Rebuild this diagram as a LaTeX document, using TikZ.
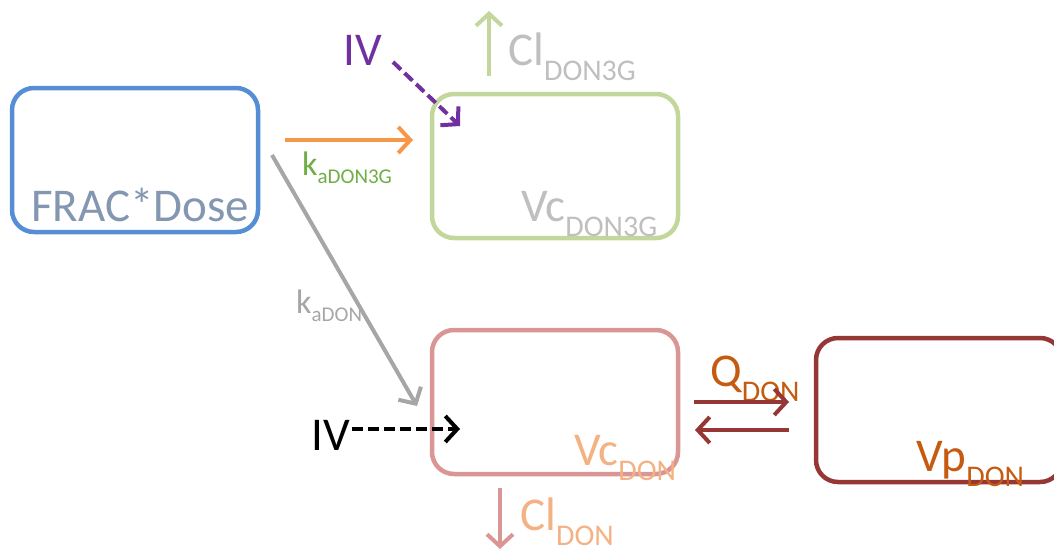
\documentclass[tikz,border=0pt]{standalone}
\usepackage{fontspec}
\setmainfont{Carlito}
\usetikzlibrary{arrows.meta}
\definecolor{cBlue}{HTML}{558ED5}
\definecolor{cFrac}{HTML}{8497B0}
\definecolor{cGreenBox}{HTML}{C3D69B}
\definecolor{cGrey}{HTML}{BFBFBF}
\definecolor{cGreyArr}{HTML}{A6A6A6}
\definecolor{cPurple}{HTML}{7030A0}
\definecolor{cGreenTxt}{HTML}{70AD47}
\definecolor{cOrangeArr}{HTML}{F79646}
\definecolor{cPink}{HTML}{D99694}
\definecolor{cOrange}{HTML}{F4B183}
\definecolor{cDarkRed}{HTML}{953735}
\definecolor{cBrown}{HTML}{C55A11}
\newcommand{\lowsub}[1]{\raisebox{-0.34em}{\fontsize{30}{30}\selectfont #1}}
\newcommand{\ksub}[1]{\raisebox{-0.25em}{\fontsize{21}{21}\selectfont #1}}
\newcommand{\bigtxt}{\fontsize{47}{47}\selectfont}
\newcommand{\midtxt}{\fontsize{34}{34}\selectfont}
\tikzset{
  cbox/.style={draw, line width=4.5pt, rounded corners=22pt, minimum width=246pt, minimum height=144pt, inner sep=0pt},
  lbl/.style={anchor=base west, inner sep=0pt},
  arr/.style={line width=4pt, -{Straight Barb[length=12pt,width=26pt]}},
}
\begin{document}
\begin{tikzpicture}[x=1pt,y=-1pt]
\clip (0,0) rectangle (1054,554);
\useasboundingbox (0,0) rectangle (1054,554);
% boxes
\node[cbox, draw=cBlue] (frac) at (135,160) {};
\node[cbox, draw=cGreenBox] (don3g) at (555,166) {};
\node[cbox, draw=cPink] (don) at (555,402) {};
\node[cbox, draw=cDarkRed] (vp) at (939,410) {};
% texts
\node[lbl, text=cFrac] (fractxt) at (31,221) {\bigtxt FRAC*Dose};
\node[lbl, text=cGrey] (vc3g) at (521,221) {\bigtxt Vc\lowsub{DON3G}};
\node[lbl, text=cGrey] (cl3g) at (508,65) {\bigtxt Cl\lowsub{DON3G}};
\node[lbl, text=cPurple] (iv1) at (343,65) {\bigtxt IV};
\node[lbl, text=cGreenTxt] (ka3g) at (302,175) {\midtxt k\ksub{aDON3G}};
\node[lbl, text=cGreyArr] (kadon) at (296,313) {\midtxt k\ksub{aDON}};
\node[lbl, text=black] (iv2) at (311,450) {\bigtxt IV};
\node[lbl, text=cOrange] (vcdon) at (574,465) {\bigtxt Vc\lowsub{DON}};
\node[lbl, text=cOrange] (cldon) at (520,530) {\bigtxt Cl\lowsub{DON}};
\node[lbl, text=cBrown] (qdon) at (710,386) {\bigtxt Q\lowsub{DON}};
\node[lbl, text=cBrown] (vpdon) at (916,471) {\bigtxt Vp\lowsub{DON}};
% arrow end points
\coordinate (o1) at (285,140); \coordinate (o2) at (413,140);
\coordinate (p1) at (393,62); \coordinate (p2) at (460,126);
\coordinate (g1) at (489,76); \coordinate (g2) at (489,11);
\coordinate (k1) at (272,155); \coordinate (k2) at (417,406);
\coordinate (b1) at (352,429); \coordinate (b2) at (460,429);
\coordinate (c1) at (500,488); \coordinate (c2) at (500,549);
\coordinate (q1) at (694,402); \coordinate (q2) at (789,402);
\coordinate (r1) at (789,430); \coordinate (r2) at (695,430);
% arrows
\draw[arr, cOrangeArr] (o1) -- (o2);
\draw[arr, cPurple, dash pattern=on 11pt off 5pt] (p1) -- (p2);
\draw[arr, cGreenBox] (g1) -- (g2);
\draw[arr, cGreyArr] (k1) -- (k2);
\draw[arr, black, dash pattern=on 11pt off 5pt] (b1) -- (b2);
\draw[arr, cPink] (c1) -- (c2);
\draw[arr, cDarkRed] (q1) -- (q2);
\draw[arr, cDarkRed] (r1) -- (r2);
\end{tikzpicture}
\end{document}
